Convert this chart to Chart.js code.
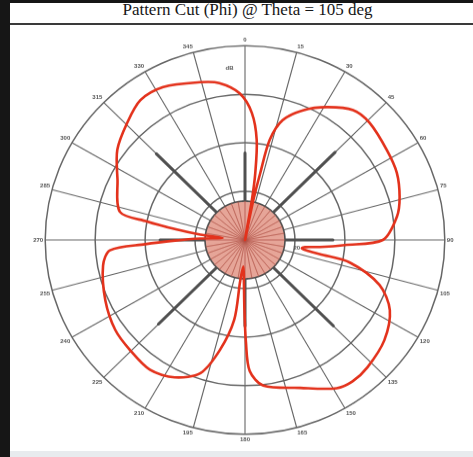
<!DOCTYPE html>
<html><head><meta charset="utf-8">
<script src="https://cdn.jsdelivr.net/npm/chart.js@4.4.0/dist/chart.umd.min.js"></script>
<style>
html,body{margin:0;padding:0;background:#fff;}
#page{position:relative;width:473px;height:457px;overflow:hidden;background:#fff;}
#leftbar{position:absolute;left:0;top:0;width:10px;height:457px;background:#161616;}
#topbar{position:absolute;left:0;top:0;width:473px;height:3px;background:#161616;}
#title{position:absolute;left:10px;top:0;width:463px;height:23px;box-sizing:border-box;padding-left:12px;text-align:center;font-family:'Liberation Serif',serif;font-size:17px;line-height:20px;color:#161616;white-space:nowrap;}
#rule{position:absolute;left:10px;top:23px;width:463px;height:2px;background:#3a3a3a;}
#bottom{position:absolute;left:10px;top:451px;width:463px;height:6px;background:#e8ebee;}
#c{position:absolute;left:10px;top:26px;}
</style></head><body>
<div id="page">
<div id="leftbar"></div><div id="topbar"></div>
<div id="title">Pattern Cut (Phi) @ Theta = 105 deg</div>
<div id="rule"></div>
<canvas id="c" width="463" height="436" style="width:463px;height:424px"></canvas>
<div id="bottom"></div>
</div>
<script>
// ---- data ----
const spokeLabels = ['0','15','30','45','60','75','90','105','120','135','150','165',
  '180','195','210','225','240','255','270','285','300','315','330','345'];
const radialTickLabels = ['20'];
const unitLabel = 'dB';
const rMin = 10, rMax = 50, rStep = 10;

// red pattern cut: phi (deg) and level
const patternPhi  = [3, 6.5, 8.5, 9.5, 10.5, 11.5, 12.5, 13.5, 17, 23.5, 31, 39, 46, 57, 65.5, 74, 81, 90,
  93, 95.5, 97, 98.5, 100, 101, 102.5, 109, 116.5, 126.5, 137, 143.5, 149, 160, 173, 178,
  179.5, 180.5, 181.5, 183.5, 186.5, 187.5, 192.5, 198, 206.5, 215.5, 225.5, 234.5, 246, 259.5,
  265.5, 267.5, 269.5, 272, 275.5, 277, 279, 281, 283, 296, 306, 315.5, 324, 332.5, 344.5, 351, 358];
const patternGain = [36.2, 30.7, 23.9, 18.3, 10, 18, 24.1, 31.2, 35.8, 39.1, 41.9, 44.4, 44.7, 43.9, 43.4, 42.2, 40.8, 37.6,
  30.0, 25.1, 22.1, 21.5, 22.5, 25.2, 31.5, 38.5, 42.4, 44.7, 45.9, 46.2, 45.6, 42.4, 40.2, 37.0,
  31.0, 24.0, 18.5, 15.5, 18.5, 26.6, 33.2, 38.8, 41.6, 42.8, 42.3, 41.9, 40.6, 38.9,
  37.1, 30.0, 24.0, 19.0, 14.5, 19.0, 24.0, 30.0, 35.7, 38.4, 41.6, 43.7, 45.6, 45.5, 43.7, 42.7, 40.2];

// dark grey reference spokes (phi, level)
const markerPhi   = [0, 45, 90, 135, 180, 225, 270, 315];
const markerLevel = [27.9, 35.5, 27.6, 35.0, 27.7, 34.5, 27.0, 35.1];

// central disc level and its fine spokes
const discLevel = 18;
const discSpokePhi = [0,10,20,30,40,50,60,70,80,90,100,110,120,130,140,150,160,170,
  180,190,200,210,220,230,240,250,260,270,280,290,300,310,320,330,340,350];

// ---- build chart tables ----
const STEP = 0.5, N = 360 / STEP;
const idx = a => Math.round(a / STEP) % N;
const labels = [];
for (let i = 0; i < N; i++) {
  const deg = i * STEP;
  labels.push(deg % 15 === 0 ? spokeLabels[deg / 15] : '');
}
const sparse = () => new Array(N).fill(null);

const redData = sparse();
patternPhi.forEach((a, k) => { redData[idx(a)] = patternGain[k]; });

const markerData = sparse();
markerPhi.forEach((a, k) => {
  markerData[idx(a)] = markerLevel[k];
  markerData[idx(a + 22.5)] = rMin;
});

const spokeData = sparse();
discSpokePhi.forEach(a => {
  spokeData[idx(a)] = discLevel;
  spokeData[idx(a + 5)] = rMin;
});

const discData = new Array(N).fill(discLevel);

const axisText = {
  id: 'axisText',
  afterDatasetsDraw(chart) {
    const r = chart.scales.r, ctx = chart.ctx;
    ctx.save();
    ctx.font = 'bold 6px "Liberation Sans"';
    ctx.fillStyle = '#555';
    ctx.textAlign = 'center';
    ctx.textBaseline = 'middle';
    radialTickLabels.forEach(t => {
      const p = r.getPointPositionForValue(idx(99), Number(t) + 0.5);
      ctx.fillText(t, p.x, p.y);
    });
    const u = r.getPointPositionForValue(idx(355), 45.5);
    ctx.fillText(unitLabel, u.x, u.y);
    ctx.restore();
  }
};

new Chart(document.getElementById('c'), {
  type: 'radar',
  data: {
    labels,
    datasets: [
      { data: redData, order: 0, spanGaps: true, fill: false, borderColor: '#e3321c', borderWidth: 2.6, tension: 0.3, pointRadius: 0 },
      { data: spokeData, order: 1, spanGaps: true, fill: false, borderColor: 'rgba(175,80,70,0.55)', borderWidth: 0.8, pointRadius: 0 },
      { data: discData, order: 2, fill: 'start', backgroundColor: 'rgb(230,165,152)', borderColor: '#4f4f4f', borderWidth: 1.6, pointRadius: 0 },
      { data: markerData, order: 3, spanGaps: true, fill: false, borderColor: '#505050', borderWidth: 3, pointRadius: 0 }
    ]
  },
  options: {
    responsive: false,
    animation: false,
    devicePixelRatio: 1,
    layout: { padding: { top: 11, bottom: 7, left: 10, right: 3 } },
    plugins: { legend: { display: false }, tooltip: { enabled: false } },
    elements: { point: { radius: 0 }, line: { borderJoinStyle: 'round' } },
    scales: {
      r: {
        min: rMin, max: rMax,
        ticks: { stepSize: rStep, display: false },
        grid: { circular: true, color: '#666', lineWidth: 1.5 },
        angleLines: { color: '#666', lineWidth: c => (c.index % 30 === 0 ? 1.1 : 0) },
        pointLabels: { font: { size: 6, family: 'Liberation Sans', weight: 'bold' }, color: '#555', padding: 2 }
      }
    }
  },
  plugins: [axisText]
});
</script>
</body></html>
